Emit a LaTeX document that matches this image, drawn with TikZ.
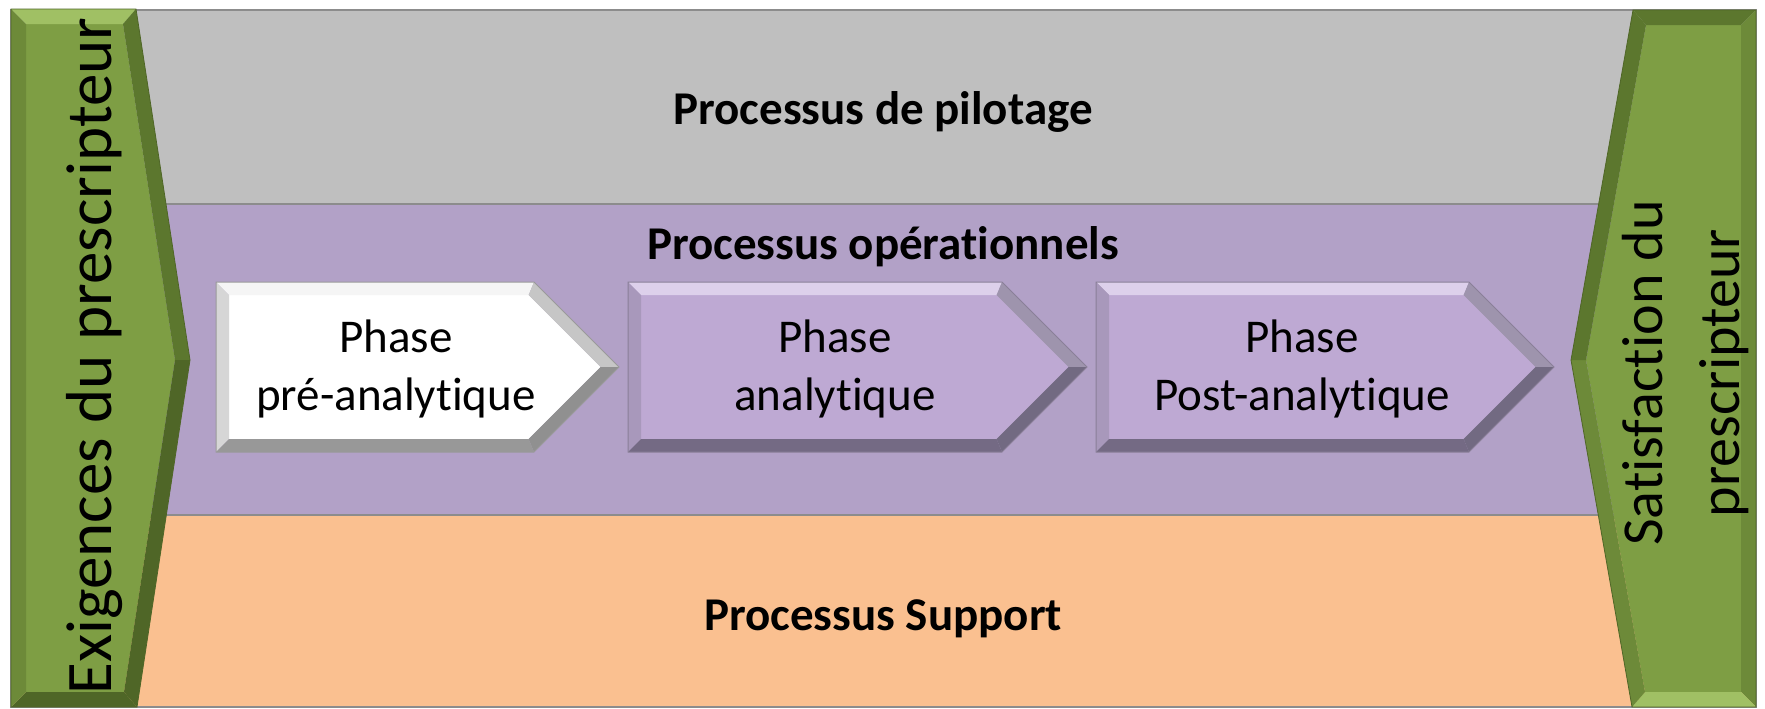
\documentclass[tikz,border=0pt]{standalone}
\usepackage{fontspec}
\setmainfont{Carlito}[Ligatures=NoCommon]
\usetikzlibrary{calc}

% band colours
\definecolor{pilotfill}{HTML}{BFBFBF}
\definecolor{operfill}{HTML}{B2A1C7}
\definecolor{suppfill}{HTML}{FAC090}
\definecolor{bandline}{HTML}{8C8C8C}
% green side banners
\definecolor{grface}{HTML}{7E9E44}
\definecolor{grlight}{HTML}{A0C064}
\definecolor{grmid}{HTML}{6D8A39}
\definecolor{grdark}{HTML}{5C772E}
\definecolor{grdeep}{HTML}{4F6627}
% lilac phase arrows
\definecolor{liface}{HTML}{BEA9D3}
\definecolor{litop}{HTML}{DDD0EB}
\definecolor{lileft}{HTML}{A898BB}
\definecolor{lislant}{HTML}{9E94AD}
\definecolor{lilow}{HTML}{726A82}
\definecolor{libot}{HTML}{746A84}
\definecolor{liedge}{HTML}{8A7F98}
% white phase arrow
\definecolor{whface}{HTML}{FFFFFF}
\definecolor{whtop}{HTML}{F5F5F5}
\definecolor{whleft}{HTML}{D6D6D6}
\definecolor{whslant}{HTML}{C6C6C6}
\definecolor{whlow}{HTML}{909090}
\definecolor{whbot}{HTML}{989898}
\definecolor{whedge}{HTML}{9A9A9A}

\tikzset{
  band/.style={draw=bandline, line width=1.2pt},
  title/.style={font=\fontsize{23.5}{28}\selectfont\bfseries, inner sep=0pt, anchor=base},
  phasetxt/.style={font=\fontsize{23.5}{29}\selectfont, align=center, inner sep=0pt},
  sidetxt/.style={inner sep=0pt, rotate=90, align=center},
}

% y-coordinates of the phase arrows and bevel width
\def\yT{282}
\def\yB{452}
\def\yM{367}
\def\bv{13}

% beveled pentagon arrow: #1 left x, #2 shoulder x, #3 tip x, #4 colour prefix
\newcommand\phasearrow[4]{%
  \pgfmathsetmacro\xa{#1+\bv}%
  \pgfmathsetmacro\xb{#2-0.414*\bv}%
  \pgfmathsetmacro\xc{#3-1.414*\bv}%
  \pgfmathsetmacro\ya{\yT+\bv}%
  \pgfmathsetmacro\yb{\yB-\bv}%
  \fill[#4face] (\xa,\ya) -- (\xb,\ya) -- (\xc,\yM) -- (\xb,\yb) -- (\xa,\yb) -- cycle;
  \fill[#4top] (#1,\yT) -- (#2,\yT) -- (\xb,\ya) -- (\xa,\ya) -- cycle;
  \fill[#4left] (#1,\yT) -- (\xa,\ya) -- (\xa,\yb) -- (#1,\yB) -- cycle;
  \fill[#4slant] (#2,\yT) -- (#3,\yM) -- (\xc,\yM) -- (\xb,\ya) -- cycle;
  \fill[#4low] (#3,\yM) -- (#2,\yB) -- (\xb,\yb) -- (\xc,\yM) -- cycle;
  \fill[#4bot] (#2,\yB) -- (#1,\yB) -- (\xa,\yb) -- (\xb,\yb) -- cycle;
  \draw[#4edge, line width=0.5pt] (#1,\yT) -- (#2,\yT) -- (#3,\yM) -- (#2,\yB) -- (#1,\yB) -- cycle;
}

\begin{document}
\begin{tikzpicture}[x=0.5pt, y=-0.5pt]
\useasboundingbox (0,0) rectangle (1765,708);
\fill[white] (0,0) rectangle (1765,708);

% the three process bands
\path[band, fill=pilotfill] (11,10) rectangle (1756,204);
\path[band, fill=operfill] (11,204) rectangle (1756,515);
\path[band, fill=suppfill] (11,515) rectangle (1756,707);

% left banner: requirements
\fill[grface] (26,24) -- (123,24) -- (175,360) -- (124,692) -- (26,692) -- cycle;
\fill[grlight] (11,9) -- (136,9) -- (123,24) -- (26,24) -- cycle;
\fill[grdark] (136,9) -- (190,360) -- (175,360) -- (123,24) -- cycle;
\fill[grdeep] (190,360) -- (137,707) -- (124,692) -- (175,360) -- cycle;
\fill[grdeep] (137,707) -- (11,707) -- (26,692) -- (124,692) -- cycle;
\fill[grmid] (11,707) -- (11,9) -- (26,24) -- (26,692) -- cycle;
\draw[grdeep, line width=0.4pt] (11,9) -- (136,9) -- (190,360) -- (137,707) -- (11,707) -- cycle;

% right banner: satisfaction
\fill[grface] (1646,25) -- (1741,25) -- (1741,692) -- (1645,692) -- (1586,360) -- cycle;
\fill[grdark] (1633,10) -- (1756,10) -- (1741,25) -- (1646,25) -- cycle;
\fill[grmid] (1756,10) -- (1756,707) -- (1741,692) -- (1741,25) -- cycle;
\fill[grlight] (1756,707) -- (1632,707) -- (1645,692) -- (1741,692) -- cycle;
\fill[grmid] (1632,707) -- (1571,360) -- (1586,360) -- (1645,692) -- cycle;
\fill[grdark] (1571,360) -- (1633,10) -- (1646,25) -- (1586,360) -- cycle;
\draw[grdeep, line width=0.4pt] (1633,10) -- (1756,10) -- (1756,707) -- (1632,707) -- (1571,360) -- cycle;

% the three phases
\phasearrow{216}{534}{619}{wh}
\phasearrow{628}{1002}{1087}{li}
\phasearrow{1096}{1469}{1554}{li}

% band titles
\node[title] (pilot) at (883,124) {Processus de pilotage};
\node[title] (oper) at (883,259) {Processus opérationnels};
\node[title] (supp) at (883,630) {Processus Support};

% phase labels
\node[phasetxt] (pre) at (396,369) {Phase\\pré-analytique};
\node[phasetxt] (ana) at (835,369) {Phase\\analytique};
\node[phasetxt] (post) at (1302,369) {Phase\\Post-analytique};

% banner labels
\node[sidetxt, anchor=base, font=\fontsize{32.5}{40}\selectfont] (req) at (111,356) {Exigences du prescripteur};
\node[sidetxt, font=\fontsize{29}{38.5}\selectfont] (sat) at (1686,373) {Satisfaction du\\prescripteur};
\end{tikzpicture}
\end{document}
